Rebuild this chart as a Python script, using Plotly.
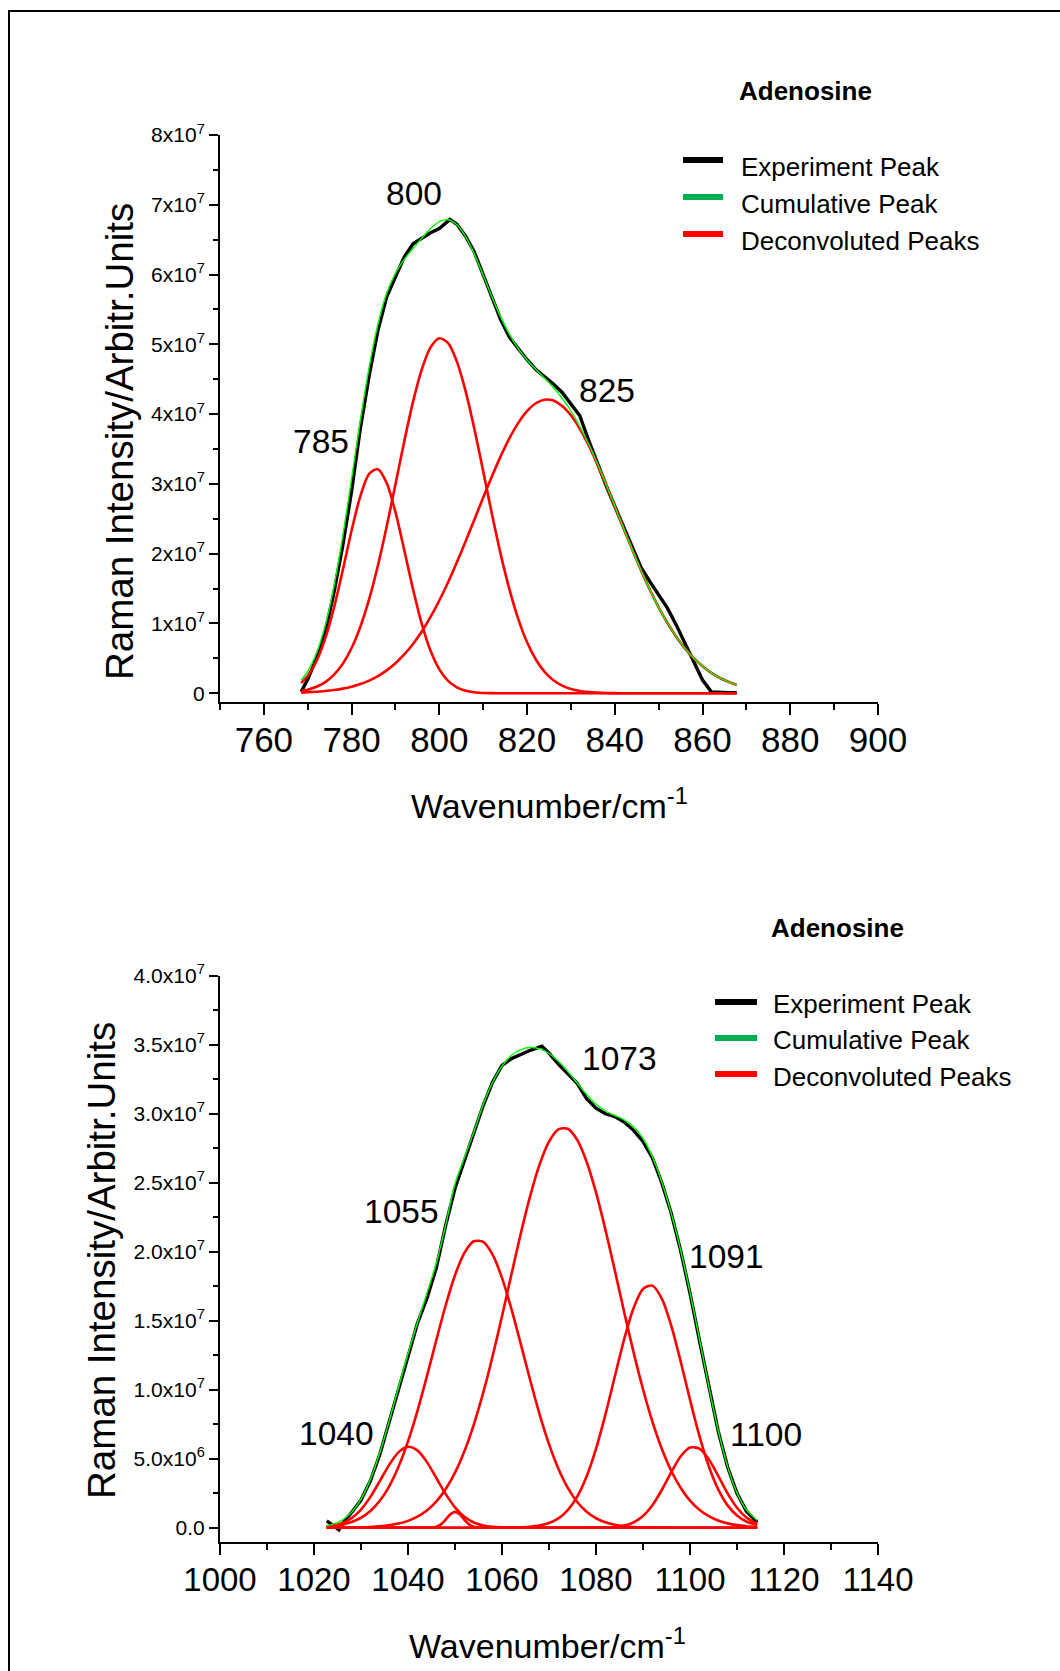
import plotly.graph_objects as go

# ---------------- data (top panel, intensities in units of 1e7) ----------------
wn_top = [768.5, 770, 772, 774, 776, 778, 780, 782, 784, 786, 788, 790, 792, 794, 796, 798,
          800, 802, 804, 806, 808, 810, 812, 814, 816, 818, 820, 822, 824, 826, 828, 830,
          832, 834, 836, 838, 840, 842, 844, 846, 848, 850, 852, 854, 856, 858, 860, 862,
          864, 866, 867.8]
peak_785 = [0.148, 0.249, 0.462, 0.787, 1.231, 1.768, 2.333, 2.826, 3.144, 3.211, 3.013, 2.595,
            2.053, 1.491, 0.995, 0.609, 0.343, 0.177, 0.084, 0.037, 0.015, 0.005, 0.002,
            0, 0, 0, 0, 0, 0, 0, 0, 0, 0, 0, 0, 0, 0, 0, 0, 0, 0, 0, 0, 0, 0, 0, 0, 0, 0, 0, 0]
peak_800 = [0.032, 0.052, 0.093, 0.160, 0.266, 0.423, 0.649, 0.954, 1.348, 1.831, 2.390, 2.996,
            3.608, 4.175, 4.641, 4.957, 5.088, 5.017, 4.753, 4.327, 3.784, 3.180, 2.567, 1.991,
            1.485, 1.063, 0.731, 0.484, 0.307, 0.187, 0.110, 0.062, 0.033, 0.017, 0.009, 0.004,
            0.002, 0, 0, 0, 0, 0, 0, 0, 0, 0, 0, 0, 0, 0, 0]
peak_825 = [0.010, 0.014, 0.022, 0.032, 0.047, 0.067, 0.095, 0.133, 0.182, 0.246, 0.328, 0.430,
            0.556, 0.707, 0.886, 1.094, 1.329, 1.591, 1.876, 2.178, 2.491, 2.805, 3.111, 3.399,
            3.657, 3.875, 4.044, 4.156, 4.207, 4.194, 4.118, 3.983, 3.793, 3.558, 3.287, 2.990,
            2.679, 2.365, 2.055, 1.759, 1.483, 1.231, 1.007, 0.811, 0.644, 0.503, 0.387, 0.293,
            0.219, 0.161, 0.120]
cum_top = [0.190, 0.315, 0.577, 0.979, 1.544, 2.258, 3.077, 3.913, 4.674, 5.288, 5.731, 6.021,
           6.217, 6.373, 6.522, 6.660, 6.760, 6.785, 6.713, 6.542, 6.290, 5.990, 5.680, 5.390,
           5.142, 4.938, 4.775, 4.640, 4.514, 4.381, 4.228, 4.045, 3.826, 3.575, 3.296, 2.994,
           2.681, 2.365, 2.055, 1.759, 1.483, 1.231, 1.007, 0.811, 0.644, 0.503, 0.387, 0.293,
           0.219, 0.161, 0.120]
wn_top_exp = [768.5, 770, 772, 774, 776, 778, 780, 782, 784, 786, 788, 790, 792, 794, 796, 798,
              800, 802.4, 804, 806, 808, 810, 812, 814, 816, 818, 820, 822, 824, 826, 828, 830,
              832, 834, 836, 838, 840, 842, 844, 846, 848, 850, 852, 854, 856, 858, 860, 862,
              864, 866, 867.8]
exp_top = [0.02, 0.20, 0.50, 0.88, 1.45, 2.12, 2.90, 3.80, 4.55, 5.20, 5.68, 5.98, 6.25, 6.44,
           6.52, 6.60, 6.66, 6.79, 6.72, 6.55, 6.32, 6.00, 5.70, 5.35, 5.10, 4.93, 4.78, 4.64,
           4.54, 4.43, 4.31, 4.15, 3.98, 3.63, 3.30, 2.98, 2.68, 2.38, 2.08, 1.80, 1.60, 1.42,
           1.22, 0.98, 0.72, 0.45, 0.19, 0.02, 0.01, 0.01, 0.01]
top_scale = 1e7

# ---------------- data (bottom panel, intensities in units of 1e6) ----------------
wn_bot = [1022.7, 1024, 1026, 1028, 1030, 1032, 1034, 1036, 1038, 1040, 1042, 1044, 1046, 1048,
          1050, 1052, 1054, 1056, 1058, 1060, 1062, 1064, 1066, 1068, 1070, 1072, 1074, 1076,
          1078, 1080, 1082, 1084, 1086, 1088, 1090, 1092, 1094, 1096, 1098, 1100, 1102, 1104,
          1106, 1108, 1110, 1112, 1114.3]
peak_1040 = [0.072, 0.135, 0.324, 0.692, 1.317, 2.235, 3.379, 4.556, 5.476, 5.867, 5.603, 4.771,
             3.621, 2.450, 1.477, 0.794, 0.381, 0.163, 0.062, 0.021, 0.006, 0.002,
             0, 0, 0, 0, 0, 0, 0, 0, 0, 0, 0, 0, 0, 0, 0, 0, 0, 0, 0, 0, 0, 0, 0, 0, 0]
peak_1055 = [0.075, 0.117, 0.224, 0.411, 0.721, 1.212, 1.949, 3.002, 4.428, 6.253, 8.453, 10.944,
             13.567, 16.105, 18.302, 19.920, 20.758, 20.714, 19.791, 18.106, 15.861, 13.304,
             10.686, 8.219, 6.053, 4.268, 2.881, 1.862, 1.153, 0.684, 0.388, 0.211, 0.110,
             0.055, 0.026, 0.012, 0.005, 0.002, 0, 0, 0, 0, 0, 0, 0, 0, 0]
peak_1073 = [0.002, 0.004, 0.008, 0.015, 0.029, 0.055, 0.099, 0.174, 0.298, 0.495, 0.797, 1.246,
             1.893, 2.790, 3.993, 5.545, 7.476, 9.785, 12.429, 15.327, 18.348, 21.321, 24.047,
             26.329, 27.982, 28.870, 28.913, 28.107, 26.526, 24.299, 21.605, 18.650, 15.625,
             12.708, 10.034, 7.691, 5.722, 4.130, 2.897, 1.969, 1.302, 0.835, 0.519, 0.313,
             0.184, 0.105, 0.053]
peak_1091 = [0, 0, 0, 0, 0, 0, 0, 0, 0, 0, 0, 0, 0, 0, 0, 0, 0, 0, 0,
             0.003, 0.010, 0.027, 0.066, 0.154, 0.334, 0.677, 1.280, 2.258, 3.719, 5.715, 8.191,
             10.956, 13.673, 15.924, 17.304, 17.545, 16.600, 14.654, 12.072, 9.279, 6.655,
             4.453, 2.781, 1.619, 0.880, 0.447, 0.188]
peak_1100 = [0, 0, 0, 0, 0, 0, 0, 0, 0, 0, 0, 0, 0, 0, 0, 0, 0, 0, 0, 0, 0, 0, 0, 0, 0, 0, 0,
             0, 0, 0.005, 0.017, 0.055, 0.157, 0.391, 0.854, 1.632, 2.734, 4.011, 5.157, 5.808,
             5.732, 4.956, 3.754, 2.492, 1.449, 0.738, 0.289]
wn_1050 = [1022.7, 1044, 1045, 1046, 1047, 1048, 1049, 1050, 1051, 1052, 1053, 1054, 1055, 1056,
           1114.3]
peak_1050 = [0, 0.002, 0.015, 0.072, 0.242, 0.576, 0.967, 1.150, 0.967, 0.576, 0.242, 0.072,
             0.015, 0.002, 0]
cum_bot = [0.149, 0.256, 0.556, 1.118, 2.067, 3.502, 5.427, 7.732, 10.202, 12.615, 14.853,
           16.963, 19.153, 21.921, 24.922, 26.835, 28.687, 30.664, 32.282, 33.457, 34.225,
           34.654, 34.799, 34.702, 34.369, 33.815, 33.074, 32.227, 31.398, 30.703, 30.201,
           29.872, 29.565, 29.078, 28.218, 26.880, 25.061, 22.797, 20.126, 17.056, 13.689,
           10.244, 7.054, 4.424, 2.513, 1.290, 0.530]
wn_bot_exp = [1022.7, 1025.3, 1026.5, 1028, 1030, 1032, 1034, 1036, 1038, 1040, 1042, 1044,
              1046, 1048, 1050, 1052, 1054, 1056, 1058, 1060, 1062, 1064, 1066, 1068.5, 1070,
              1072, 1074, 1076, 1078, 1080, 1082, 1084, 1086, 1088, 1090, 1092, 1094, 1096,
              1098, 1100, 1102, 1104, 1106, 1108, 1110, 1112, 1114.3]
exp_bot = [0.5, -0.15, 0.5, 1.1, 2.0, 3.4, 5.3, 7.6, 10.0, 12.4, 14.8, 16.6, 18.8, 21.9, 24.6,
           26.7, 28.6, 30.6, 32.3, 33.5, 34.0, 34.3, 34.6, 34.9, 34.4, 33.6, 32.9, 32.2, 31.1,
           30.4, 30.0, 29.8, 29.4, 28.8, 28.0, 26.8, 25.0, 22.8, 20.1, 17.0, 13.6, 10.2, 7.0,
           4.4, 2.5, 1.2, 0.4]
bot_scale = 1e6

# ---------------- tick labels / texts ----------------
top_xticks = [760, 780, 800, 820, 840, 860, 880, 900]
top_yvals = [0, 1e7, 2e7, 3e7, 4e7, 5e7, 6e7, 7e7, 8e7]
top_ytext = ["0"] + [f"{i}x10<sup>7</sup>" for i in range(1, 9)]
bot_xticks = [1000, 1020, 1040, 1060, 1080, 1100, 1120, 1140]
bot_yvals = [0, 5e6, 1e7, 1.5e7, 2e7, 2.5e7, 3e7, 3.5e7, 4e7]
bot_ytext = ["0.0", "5.0x10<sup>6</sup>", "1.0x10<sup>7</sup>", "1.5x10<sup>7</sup>",
             "2.0x10<sup>7</sup>", "2.5x10<sup>7</sup>", "3.0x10<sup>7</sup>",
             "3.5x10<sup>7</sup>", "4.0x10<sup>7</sup>"]
legend_names = ["Experiment Peak", "Cumulative Peak", "Deconvoluted Peaks"]
legend_colors = ["#000000", "#00b050", "#ff0000"]
top_labels = ["785", "800", "825"]
bot_labels = ["1040", "1055", "1073", "1091", "1100"]

# ---------------- layout helpers ----------------
W, H = 1060, 1671
def PX(x):
    return x / W
def PY(y):
    return 1 - y / H

FONT = "Liberation Sans, Arial, sans-serif"
RED, BLACK, GREEN = "#ff0000", "#000000", "#00ff00"

fig = go.Figure()

def add_panel(xa, ya, wn_exp, exp, wn, peaks, cum, scale, extra=None):
    fig.add_trace(go.Scatter(x=wn_exp, y=[v * scale for v in exp], mode="lines",
                             line=dict(color=BLACK, width=3.4), xaxis=xa, yaxis=ya,
                             showlegend=False, hoverinfo="skip"))
    for p in peaks:
        fig.add_trace(go.Scatter(x=wn, y=[v * scale for v in p], mode="lines",
                                 line=dict(color=RED, width=2.6, shape="spline", smoothing=0.8),
                                 xaxis=xa, yaxis=ya, showlegend=False, hoverinfo="skip"))
    if extra is not None:
        fig.add_trace(go.Scatter(x=extra[0], y=[v * scale for v in extra[1]], mode="lines",
                                 line=dict(color=RED, width=2.6, shape="spline", smoothing=0.8),
                                 xaxis=xa, yaxis=ya, showlegend=False, hoverinfo="skip"))
    fig.add_trace(go.Scatter(x=wn, y=[v * scale for v in cum], mode="lines",
                             line=dict(color=GREEN, width=1.4, shape="spline", smoothing=0.8),
                             xaxis=xa, yaxis=ya, showlegend=False, hoverinfo="skip"))

add_panel("x", "y", wn_top_exp, exp_top, wn_top, [peak_785, peak_800, peak_825], cum_top, top_scale)
add_panel("x2", "y2", wn_bot_exp, exp_bot, wn_bot,
          [peak_1040, peak_1055, peak_1073, peak_1091, peak_1100], cum_bot, bot_scale,
          extra=(wn_1050, peak_1050))

axis_common = dict(showline=True, linecolor="black", linewidth=2, ticks="outside",
                   tickcolor="black", tickwidth=2, showgrid=False, zeroline=False,
                   fixedrange=True, automargin=False)

x_top_dom = [PX(220), PX(878)]
y_top_dom = [PY(702), PY(135)]
x_bot_dom = [PX(220), PX(878)]
y_bot_dom = [PY(1541.5), PY(975.8)]

fig.update_layout(
    template="none",
    width=W, height=H, margin=dict(l=0, r=0, t=0, b=0, autoexpand=False),
    paper_bgcolor="white", plot_bgcolor="white", showlegend=False,
    xaxis=dict(axis_common, domain=x_top_dom, anchor="y", range=[750, 900],
               tickmode="array", tickvals=top_xticks, ticklen=11, tickangle=0,
               ticklabelstandoff=-5,
               tickfont=dict(family=FONT, size=35, color="black"),
               minor=dict(tickmode="array", tickvals=[750, 770, 790, 810, 830, 850, 870, 890],
                          ticks="outside", ticklen=6, tickwidth=2, tickcolor="black",
                          showgrid=False)),
    yaxis=dict(axis_common, domain=y_top_dom, anchor="x", range=[-1.25e6, 8e7],
               tickmode="array", tickvals=top_yvals, ticktext=top_ytext, ticklen=9,
               tickfont=dict(family=FONT, size=21, color="black"),
               minor=dict(tickmode="array",
                          tickvals=[5e6, 1.5e7, 2.5e7, 3.5e7, 4.5e7, 5.5e7, 6.5e7, 7.5e7],
                          ticks="outside", ticklen=5, tickwidth=2, tickcolor="black",
                          showgrid=False)),
    xaxis2=dict(axis_common, domain=x_bot_dom, anchor="y2", range=[1000, 1140],
                tickmode="array", tickvals=bot_xticks, ticklen=11, tickangle=0,
                ticklabelstandoff=-3,
                tickfont=dict(family=FONT, size=33, color="black"),
                minor=dict(tickmode="array",
                           tickvals=[1010, 1030, 1050, 1070, 1090, 1110, 1130],
                           ticks="outside", ticklen=6, tickwidth=2, tickcolor="black",
                           showgrid=False)),
    yaxis2=dict(axis_common, domain=y_bot_dom, anchor="x2", range=[-1.0e6, 4e7],
                tickmode="array", tickvals=bot_yvals, ticktext=bot_ytext, ticklen=9,
                tickfont=dict(family=FONT, size=21, color="black"),
                minor=dict(tickmode="array",
                           tickvals=[2.5e6, 7.5e6, 1.25e7, 1.75e7, 2.25e7, 2.75e7, 3.25e7, 3.75e7],
                           ticks="outside", ticklen=5, tickwidth=2, tickcolor="black",
                           showgrid=False)),
)

ann = []
shapes = []

def text(px, py, s, size, angle=0, xanchor="center"):
    ann.append(dict(x=PX(px), y=PY(py), xref="paper", yref="paper", text=s, showarrow=False,
                    xanchor=xanchor, yanchor="middle", textangle=angle,
                    font=dict(family=FONT, size=size, color="black")))

# axis titles
text(119, 442, "Raman Intensity/Arbitr.Units", 38.5, angle=-90)
text(101, 1261, "Raman Intensity/Arbitr.Units", 38.5, angle=-90)
text(549, 803, "Wavenumber/cm<sup>-1</sup>", 34)
text(547, 1643, "Wavenumber/cm<sup>-1</sup>", 34)

# legend blocks
def legend_block(title_xy, sw_x0, sw_x1, sw_ys, tx, t_ys):
    text(title_xy[0], title_xy[1], "<b>Adenosine</b>", 26)
    for name, col, sy, ty in zip(legend_names, legend_colors, sw_ys, t_ys):
        shapes.append(dict(type="line", xref="paper", yref="paper", x0=PX(sw_x0), x1=PX(sw_x1),
                           y0=PY(sy), y1=PY(sy), line=dict(color=col, width=6)))
        text(tx, ty, name, 26, xanchor="left")

legend_block((805, 91), 683, 723, [160, 197, 234], 739, [166.5, 204, 240.5])
legend_block((837, 928), 715, 757, [1002, 1038, 1074], 771, [1003.5, 1040, 1077])

# peak labels
for s, (px, py) in zip(top_labels, [(320.5, 441.5), (414, 193.5), (607, 390.5)]):
    text(px, py, s, 33.5)
for s, (px, py) in zip(bot_labels, [(336.7, 1433.3), (401.6, 1211), (619, 1058),
                                    (726, 1256.5), (765.5, 1434.5)]):
    text(px, py, s, 33.5)

# outer frame
shapes.append(dict(type="rect", xref="paper", yref="paper", x0=PX(9), y0=PY(1700),
                   x1=PX(1080), y1=PY(11), line=dict(color="black", width=2)))

fig.update_layout(annotations=ann, shapes=shapes)

fig.write_html("out.html", config={"displayModeBar": False},
               post_script="document.body.style.margin='0';")
